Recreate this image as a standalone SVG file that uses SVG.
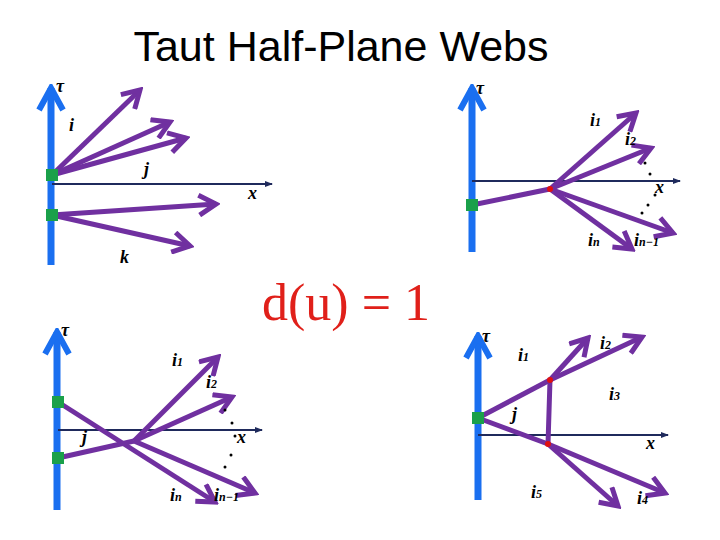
<svg xmlns="http://www.w3.org/2000/svg" width="720" height="540" viewBox="0 0 720 540">
<style>
.w{stroke:#7030a0;stroke-width:5;fill:none;marker-end:url(#pa)}
.s{stroke:#7030a0;stroke-width:5;fill:none}
.t{stroke:#1a6ff0;stroke-width:7;marker-end:url(#ba)}
.xa{stroke:#1f2a5c;stroke-width:2;marker-end:url(#xa)}
.g{fill:#1aa04a}
.r{fill:#e01010}
.l{font-family:"Liberation Serif",serif;font-style:italic;font-weight:bold;font-size:18px;fill:#000}
.sb{font-size:12px}
.d{fill:#000}
</style>
<defs>
<marker id="pa" viewBox="0 0 24 24" refX="20" refY="12" markerWidth="24" markerHeight="24" markerUnits="userSpaceOnUse" orient="auto"><path d="M3,2 L20,12 L3,22" stroke="#7030a0" stroke-width="5" fill="none"/></marker>
<marker id="ba" viewBox="0 0 30 30" refX="26" refY="15" markerWidth="30" markerHeight="30" markerUnits="userSpaceOnUse" orient="auto"><path d="M4,3 L26,15 L4,27" stroke="#1a6ff0" stroke-width="6" fill="none"/></marker>
<marker id="xa" viewBox="0 0 8 8" refX="7" refY="4" markerWidth="8" markerHeight="8" markerUnits="userSpaceOnUse" orient="auto"><path d="M0,1 L8,4 L0,7z" fill="#1f2a5c"/></marker>
</defs>
<text x="341" y="61" text-anchor="middle" font-family="Liberation Sans,Arial,sans-serif" font-size="43">Taut Half-Plane Webs</text>
<text x="346" y="320" text-anchor="middle" font-family="Liberation Serif,serif" font-size="52" fill="#e0201a">d(u) = 1</text>

<g id="panel-tl">
<line class="t" x1="51" y1="265" x2="51" y2="88"/>
<line class="xa" x1="52" y1="184" x2="272" y2="184"/>
<line class="w" x1="52" y1="175" x2="140" y2="90"/>
<line class="w" x1="52" y1="175" x2="170" y2="122"/>
<line class="w" x1="52" y1="175" x2="186" y2="138"/>
<line class="w" x1="52" y1="215" x2="216" y2="204"/>
<line class="w" x1="52" y1="215" x2="190" y2="246"/>
<rect class="g" x="46" y="169" width="12" height="12"/>
<rect class="g" x="46" y="209" width="12" height="12"/>
<text class="l" x="56" y="92" font-size="11">τ</text>
<text class="l" x="69" y="131">i</text>
<text class="l" x="144" y="175">j</text>
<text class="l" x="248" y="199">x</text>
<text class="l" x="120" y="263">k</text>
</g>

<g id="panel-tr">
<line class="t" x1="472" y1="252" x2="472" y2="88"/>
<line class="xa" x1="472" y1="181" x2="680" y2="181"/>
<line class="s" x1="472" y1="205" x2="550" y2="189"/>
<line class="w" x1="550" y1="189" x2="636" y2="113"/>
<line class="w" x1="550" y1="189" x2="651" y2="148"/>
<line class="w" x1="550" y1="189" x2="673" y2="233"/>
<line class="w" x1="550" y1="189" x2="632" y2="249"/>
<circle class="r" cx="550" cy="189" r="3"/>
<rect class="g" x="466" y="199" width="12" height="12"/>
<circle class="d" cx="645" cy="163" r="1.5"/><circle class="d" cx="650" cy="174" r="1.5"/><circle class="d" cx="655" cy="195" r="1.5"/><circle class="d" cx="648" cy="205" r="1.5"/><circle class="d" cx="642" cy="213" r="1.5"/>
<text class="l" x="476" y="94" font-size="11">τ</text>
<text class="l" x="590" y="126">i<tspan class="sb">1</tspan></text>
<text class="l" x="625" y="145">i<tspan class="sb">2</tspan></text>
<text class="l" x="655" y="193">x</text>
<text class="l" x="588" y="246">i<tspan class="sb">n</tspan></text>
<text class="l" x="634" y="246">i<tspan class="sb">n−1</tspan></text>
</g>

<g id="panel-bl">
<line class="t" x1="57" y1="510" x2="57" y2="332"/>
<line class="xa" x1="58" y1="430" x2="262" y2="430"/>
<line class="w" x1="58" y1="402" x2="215" y2="502"/>
<line class="s" x1="58" y1="458" x2="134" y2="441"/>
<line class="w" x1="134" y1="441" x2="218" y2="357"/>
<line class="w" x1="134" y1="441" x2="232" y2="397"/>
<line class="w" x1="134" y1="441" x2="255" y2="493"/>
<rect class="g" x="52" y="396" width="12" height="12"/>
<rect class="g" x="52" y="452" width="12" height="12"/>
<circle class="d" cx="225" cy="410" r="1.5"/><circle class="d" cx="232" cy="423" r="1.5"/><circle class="d" cx="235" cy="436" r="1.5"/><circle class="d" cx="231" cy="455" r="1.5"/><circle class="d" cx="225" cy="467" r="1.5"/>
<text class="l" x="61" y="336" font-size="11">τ</text>
<text class="l" x="172" y="366">i<tspan class="sb">1</tspan></text>
<text class="l" x="206" y="388">i<tspan class="sb">2</tspan></text>
<text class="l" x="237" y="443">x</text>
<text class="l" x="82" y="443">j</text>
<text class="l" x="170" y="501">i<tspan class="sb">n</tspan></text>
<text class="l" x="214" y="501">i<tspan class="sb">n−1</tspan></text>
</g>

<g id="panel-br">
<line class="t" x1="478" y1="500" x2="478" y2="336"/>
<line class="xa" x1="478" y1="435" x2="668" y2="435"/>
<line class="s" x1="478" y1="418" x2="550" y2="380"/>
<line class="s" x1="478" y1="418" x2="548" y2="444"/>
<line class="s" x1="550" y1="380" x2="548" y2="444"/>
<line class="w" x1="550" y1="380" x2="588" y2="338"/>
<line class="w" x1="550" y1="380" x2="642" y2="337"/>
<line class="w" x1="548" y1="444" x2="618" y2="506"/>
<line class="w" x1="548" y1="444" x2="665" y2="493"/>
<circle class="r" cx="550" cy="380" r="3"/>
<circle class="r" cx="548" cy="444" r="3"/>
<rect class="g" x="472" y="412" width="12" height="12"/>
<text class="l" x="482" y="342" font-size="11">τ</text>
<text class="l" x="518" y="361">i<tspan class="sb">1</tspan></text>
<text class="l" x="600" y="349">i<tspan class="sb">2</tspan></text>
<text class="l" x="609" y="400">i<tspan class="sb">3</tspan></text>
<text class="l" x="512" y="420">j</text>
<text class="l" x="646" y="449">x</text>
<text class="l" x="531" y="498">i<tspan class="sb">5</tspan></text>
<text class="l" x="637" y="504">i<tspan class="sb">4</tspan></text>
</g>
</svg>
